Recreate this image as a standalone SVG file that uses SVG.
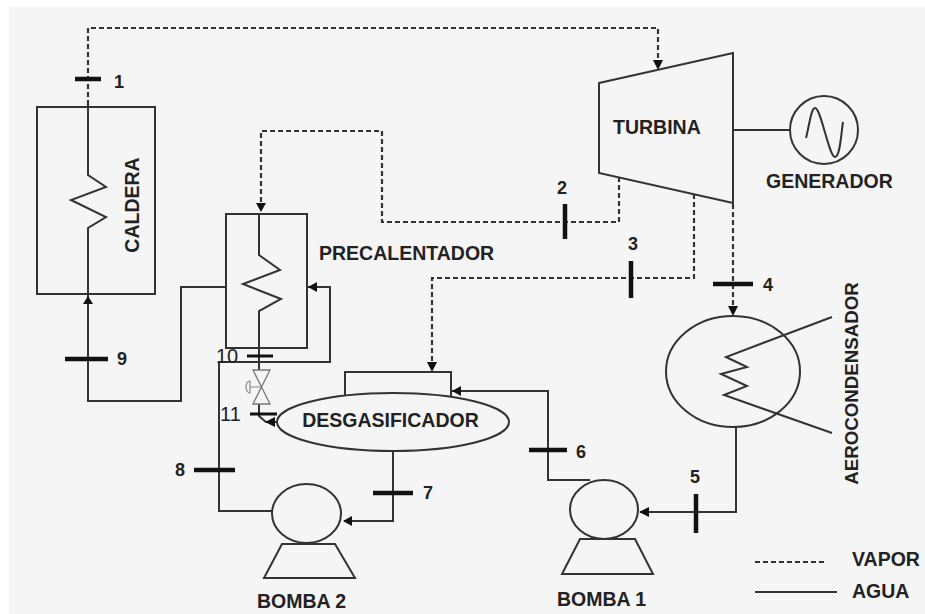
<svg xmlns="http://www.w3.org/2000/svg" width="925" height="614" viewBox="0 0 925 614">
<style>
.l{fill:none;stroke:#333;stroke-width:2}
.e{fill:#f5f5f5;stroke:#333;stroke-width:2}
.d{fill:none;stroke:#333;stroke-width:2.2;stroke-dasharray:5 3}
.t{fill:none;stroke:#111;stroke-width:4.5}
.a{fill:#111;stroke:none}
text{font-family:"Liberation Sans",Arial,sans-serif;font-weight:bold;font-size:19.5px;fill:#222}
.n{font-size:18px}
.p{font-weight:normal;font-size:20px}
</style>
<rect width="925" height="614" fill="#fff"/>
<rect x="9" y="7" width="916" height="607" fill="#f5f5f5"/>
<g id="connectors">
<path class="d" d="M88 105V28H658V61"/>
<path class="a" d="M653 60h10l-5 10z"/>
<path class="d" d="M619 177V222H382V131H261V204"/>
<path class="a" d="M256 203h10l-5 9z"/>
<path class="d" d="M694 194V278H432V363"/>
<path class="a" d="M427 362h10l-5 10z"/>
<path class="d" d="M733 204V307"/>
<path class="a" d="M728 306h10l-5 10z"/>
<path class="l" d="M88 105V175L106 187 71 200 106 217 88 228V401H181V287H226"/>
<path class="a" d="M88 296l-5 8h10z"/>
<path class="l" d="M259 214V255L280 270 243 284 281 299 259 311V370"/>
<path class="l" d="M308 287H330V362H219V511H272"/>
<path class="a" d="M308 287l9-5v10z"/>
<path class="l" d="M259 404V416L266 422H277"/>
<path class="a" d="M265 422l10-5v10z"/>
<path class="l" d="M393 450V521H344"/>
<path class="a" d="M343 521l9-5v10z"/>
<path class="l" d="M452 391H548V480H590"/>
<path class="a" d="M452 391l9-5v10z"/>
<path class="l" d="M736 427V512H640"/>
<path class="a" d="M639 512l10-5v10z"/>
<path class="l" d="M733 130H791"/>
</g>
<g id="caldera">
<rect class="l" x="37" y="107" width="118" height="187"/>
<text transform="translate(139 205) rotate(-90)" text-anchor="middle">CALDERA</text>
</g>
<g id="precalentador">
<rect class="l" x="226" y="214" width="81" height="134"/>
<text x="319" y="260">PRECALENTADOR</text>
</g>
<g id="turbina">
<path class="e" d="M599 83L733 53V203L599 173Z"/>
<text x="613" y="134">TURBINA</text>
</g>
<g id="generador">
<circle class="l" cx="824" cy="130" r="34"/>
<path class="l" d="M806 138C809 127 811 108 815 108 821 108 829 157 835 157 840 157 841 135 843 122"/>
<text x="766" y="188">GENERADOR</text>
</g>
<g id="aerocondensador">
<ellipse class="l" cx="733" cy="371.500" rx="67" ry="55.500"/>
<path class="l" d="M832 317L726 357 747 367 721 374 747 386 724 395 832 433"/>
<text transform="translate(858 383.500) rotate(-90)" text-anchor="middle" style="font-size:18.700px">AEROCONDENSADOR</text>
</g>
<g id="desgasificador">
<rect class="l" x="345" y="372" width="106" height="32"/>
<ellipse class="e" cx="393" cy="422" rx="116" ry="29"/>
<text x="390.500" y="427" text-anchor="middle">DESGASIFICADOR</text>
</g>
<g id="valvula">
<path fill="none" stroke="#777" stroke-width="1.3" d="M253 370H270L253 404H270Z"/>
<path fill="none" stroke="#888" stroke-width="1.2" d="M261 387H250M250 381A4 6 0 0 0 250 393Z"/>
</g>
<g id="bomba-2">
<ellipse class="l" cx="306.500" cy="513.500" rx="34.500" ry="29.500"/>
<path class="l" d="M282 544H335L355 578H264Z"/>
<text x="257" y="608">BOMBA 2</text>
</g>
<g id="bomba-1">
<ellipse class="l" cx="604" cy="509.500" rx="34" ry="29.500"/>
<path class="l" d="M580 539H635L653 574H562Z"/>
<text x="557" y="606">BOMBA 1</text>
</g>
<g id="marcas">
<path class="t" d="M75 79H101"/><text class="n" x="114" y="88">1</text>
<path class="t" d="M565 204V239"/><text class="n" x="557" y="194">2</text>
<path class="t" d="M631 261V298"/><text class="n" x="628" y="250">3</text>
<path class="t" d="M713 284H753"/><text class="n" x="763" y="291">4</text>
<path class="t" d="M696 494V533"/><text class="n" x="690" y="483">5</text>
<path class="t" d="M529 450H567"/><text class="n" x="576" y="458">6</text>
<path class="t" d="M373 493H413"/><text class="n" x="423" y="499">7</text>
<path class="t" d="M194 470H235"/><text class="n" x="175" y="476">8</text>
<path class="t" d="M65 359H108"/><text class="n" x="117" y="365">9</text>
<path class="t" style="stroke-width:3" d="M247 356H273"/><text class="p" x="216" y="363">10</text>
<path class="t" style="stroke-width:3" d="M250 414H277"/><text class="p" x="220" y="421">11</text>
</g>
<g id="leyenda">
<path class="d" d="M755 562H827"/><text x="852" y="566">VAPOR</text>
<path class="l" d="M755 592H837"/><text x="852" y="598">AGUA</text>
</g>
</svg>
